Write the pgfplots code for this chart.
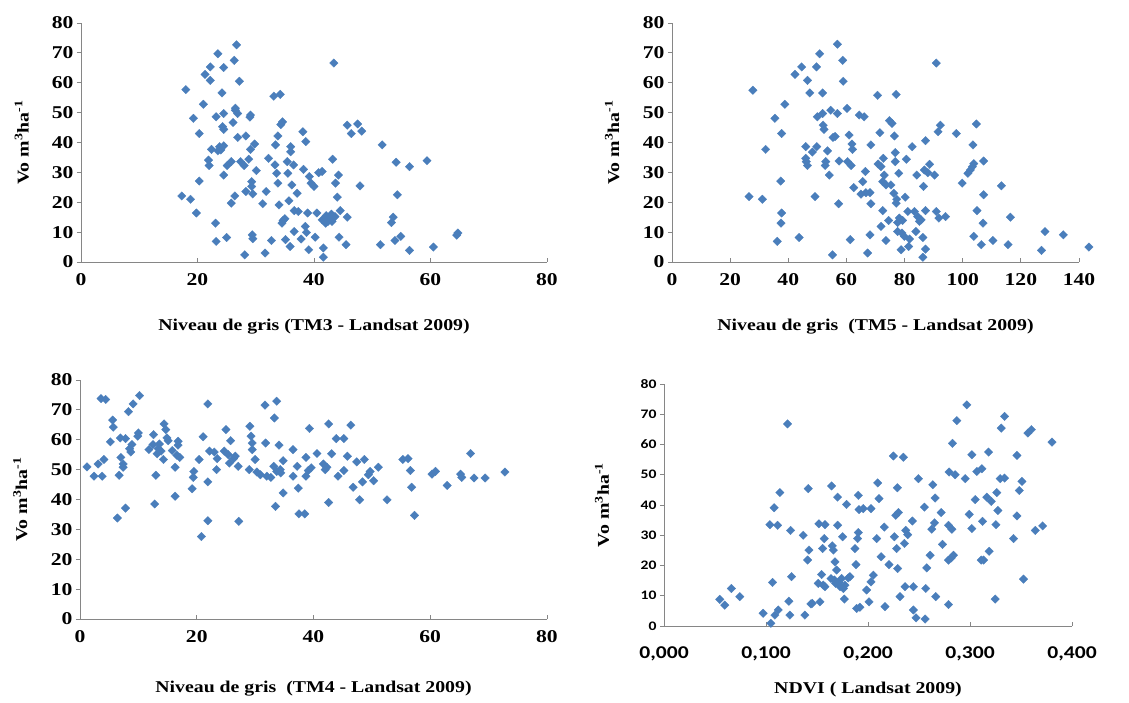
\documentclass[border=0pt]{standalone}
\usepackage{fontspec}
\setmainfont{Liberation Serif}[FakeStretch=1.2]
\newfontfamily\calfont{Carlito}[FakeStretch=1.2]
\usepackage{pgfplots}
\pgfplotsset{compat=1.18}
\definecolor{markblue}{HTML}{4A7EBB}
\definecolor{axisgray}{HTML}{868686}
\pgfplotsset{
  panel/.style={
    scale only axis,
    anchor=south west,
    axis x line*=bottom,
    axis y line*=left,
    axis line style={draw=axisgray, line width=0.9pt},
    every tick/.style={draw=axisgray, line width=0.9pt},
    xtick align=inside,
    ytick align=outside,
    major tick length=4pt,
    ymin=0, ymax=80,
    ytick={0,10,...,80},
    clip=false,
    /pgf/number format/assume math mode=true,
    tick label style={font=\fontsize{18}{20}\selectfont\bfseries},
    xticklabel style={yshift=-8pt},
    label style={font=\fontsize{16.5}{19}\selectfont\bfseries},
    ylabel={Vo m\textsuperscript{3}ha\textsuperscript{-1}},
  },
  pts/.style={only marks, mark=square*, mark size=3pt, color=markblue, mark options={rotate=45, draw=markblue, fill=markblue, line width=0.3pt}},
}
\pgfplotstableread{
x y
17.3 22.1
18.8 21.0
18.0 57.7
19.3 48.1
19.8 16.4
20.3 43.0
20.3 27.1
21.0 52.8
21.3 62.8
22.2 65.3
22.2 60.8
21.9 34.1
22.0 32.3
22.4 37.7
23.1 13.0
23.2 6.9
23.5 69.7
23.2 48.6
23.5 37.2
23.8 38.6
24.2 56.6
24.3 45.3
24.5 44.4
24.5 49.7
24.5 65.1
24.5 38.9
24.5 29.1
24.0 37.5
25.0 8.2
25.1 32.3
25.8 33.6
25.8 19.7
26.1 46.7
26.3 67.5
26.4 22.1
26.5 50.8
26.5 51.5
26.7 72.7
26.9 49.7
26.9 41.7
27.2 60.5
27.4 33.6
28.0 32.3
28.1 2.4
28.3 42.2
28.3 23.6
28.8 34.4
29.1 49.2
29.0 48.5
29.1 37.7
29.3 26.9
29.3 25.3
29.5 22.8
29.4 9.1
29.5 7.8
29.8 39.5
30.1 30.6
31.2 19.5
31.6 3.0
31.8 23.6
32.2 34.7
32.7 7.2
33.1 55.5
33.3 32.5
33.4 39.2
33.6 29.7
33.8 26.4
33.8 42.2
34.0 19.1
34.2 56.1
34.6 46.9
34.3 46.0
34.7 13.9
34.5 13.0
35.0 14.5
35.1 7.5
35.4 33.6
35.5 29.7
35.7 20.5
35.9 5.2
36.0 38.6
36.0 36.9
36.2 25.8
36.5 32.5
36.6 17.2
36.6 10.2
37.1 23.0
37.3 16.9
37.8 7.7
38.1 43.6
38.2 31.0
38.5 11.9
38.6 40.3
38.7 9.9
38.9 16.4
39.1 4.1
39.2 28.6
39.5 26.4
40.0 25.3
40.2 8.3
40.5 16.4
40.8 29.9
41.4 30.3
41.4 14.1
41.6 4.7
41.6 1.6
42.0 13.0
42.1 15.5
42.4 13.6
42.7 14.7
43.0 16.0
43.1 13.6
43.2 34.4
43.4 66.6
43.6 15.2
43.7 26.4
44.0 21.7
44.2 29.1
44.3 8.3
44.5 17.2
45.5 5.8
45.7 15.0
45.7 45.8
46.4 43.0
47.5 46.2
47.9 25.5
48.2 43.8
51.4 5.8
51.7 39.2
53.3 13.2
53.6 15.0
53.9 7.2
54.1 33.4
54.3 22.5
54.9 8.6
56.4 3.9
56.4 31.9
59.4 33.9
60.5 5.0
64.7 9.7
64.5 9.0
}\tmthree
\pgfplotstableread{
x y
26.5 21.9
27.8 57.5
31.1 21.0
32.2 37.7
35.4 48.1
36.2 6.9
37.4 27.1
37.5 13.0
37.7 16.4
37.7 43.0
38.8 52.8
42.3 62.8
43.7 8.2
44.6 65.3
46.0 38.6
46.0 34.7
46.2 33.6
46.6 32.3
46.6 60.8
47.4 56.6
48.3 36.8
49.2 21.9
49.7 65.3
49.8 38.6
50.0 48.6
50.8 69.7
51.8 56.6
51.8 49.7
52.0 45.8
52.3 44.4
52.7 32.3
52.9 33.6
53.5 37.2
54.1 29.1
54.6 50.8
55.2 2.4
55.4 41.7
56.1 42.0
56.9 49.7
56.9 72.9
57.3 19.5
57.5 33.8
58.7 67.5
58.9 60.5
60.2 51.4
60.4 33.6
60.9 42.5
61.3 7.5
61.6 32.3
61.9 39.5
62.1 37.7
62.5 24.9
64.4 49.2
65.0 22.7
65.6 26.9
66.1 48.6
66.5 30.3
66.7 23.2
67.3 3.0
68.1 9.1
68.1 23.2
68.4 19.5
68.4 39.2
70.7 55.8
70.9 32.8
71.5 43.3
71.9 11.9
71.9 31.9
72.5 17.2
72.7 34.7
72.5 26.9
73.0 29.1
73.6 7.2
73.6 25.8
74.5 13.9
74.8 47.3
75.3 25.8
75.7 46.4
76.3 23.0
76.5 42.2
76.8 36.6
76.8 33.6
77.1 56.1
77.1 19.7
77.3 21.0
77.6 13.2
77.6 10.2
78.0 29.7
78.2 14.7
78.8 4.1
79.1 9.7
79.3 13.9
79.9 8.6
80.2 21.7
80.6 34.4
81.1 16.9
81.4 5.2
81.7 7.7
82.6 38.6
83.4 16.9
83.9 10.2
84.2 29.1
84.5 15.2
85.1 13.6
85.7 14.1
86.3 8.2
86.3 1.6
86.5 25.3
86.8 30.8
87.2 4.3
87.2 17.2
87.2 40.6
88.0 29.9
88.6 32.7
90.3 29.1
90.9 66.6
90.9 16.9
91.5 43.6
91.8 14.7
92.3 45.8
94.1 15.2
97.8 43.0
99.8 26.4
101.8 29.7
102.6 30.8
103.3 31.9
103.5 39.2
103.8 32.9
103.8 8.6
104.7 46.2
104.9 17.2
106.4 5.8
107.0 13.0
107.2 33.8
107.2 22.5
110.4 7.2
113.3 25.5
115.6 5.8
116.4 15.0
127.1 3.9
128.3 10.2
134.6 9.1
143.4 5.0
}\tmfive
\pgfplotstableread{
x y
1.2 50.9
2.4 47.8
3.1 51.9
3.6 73.8
3.8 47.8
4.1 53.4
4.4 73.5
5.2 59.3
5.6 66.6
5.7 64.2
6.4 33.8
6.7 48.1
6.9 60.6
7.0 54.1
7.4 51.9
7.4 50.8
7.8 37.1
7.8 60.4
8.3 69.4
8.5 57.0
8.7 55.9
8.9 58.4
9.1 72.0
9.9 61.2
10.0 62.3
10.2 74.8
11.8 56.7
12.5 58.4
12.6 61.7
12.8 38.5
13.0 48.1
13.2 55.3
13.4 57.0
13.6 58.6
13.9 56.2
14.3 53.4
14.4 65.3
14.7 63.4
14.9 60.6
15.1 59.7
15.8 56.4
16.3 50.8
16.3 41.1
16.6 54.8
16.8 59.5
16.8 58.2
17.1 54.1
19.2 43.6
19.4 47.4
19.5 49.4
20.4 53.4
20.8 27.6
21.1 61.0
21.9 72.0
21.9 32.9
21.9 45.9
22.2 56.2
23.0 55.9
23.4 50.0
23.5 53.7
24.7 56.2
25.0 63.4
25.4 55.0
25.6 52.2
25.8 59.7
26.3 53.7
26.6 54.5
27.2 32.7
27.1 51.1
29.0 50.0
29.1 64.5
29.3 61.2
29.5 58.9
29.5 56.7
30.0 53.4
30.3 49.2
30.9 48.3
31.7 71.6
31.8 58.9
32.0 47.8
32.7 47.4
33.2 51.1
33.3 67.3
33.5 37.7
33.7 72.9
33.7 49.4
34.1 58.2
34.3 50.0
34.4 48.9
34.8 53.0
34.8 42.2
36.5 56.7
36.5 47.8
37.2 51.1
37.4 43.8
37.5 35.2
38.5 35.2
38.7 54.1
38.7 47.8
39.1 49.7
39.3 63.8
39.6 50.6
40.6 55.4
41.7 51.9
42.0 50.0
42.3 50.8
42.6 65.3
42.6 39.0
43.1 55.3
43.9 60.4
44.2 47.8
45.2 60.4
45.2 49.7
45.8 54.5
46.4 64.9
46.8 44.1
47.4 52.6
47.9 39.9
48.4 45.9
48.7 53.4
49.4 48.3
49.7 49.4
50.3 46.3
51.1 50.8
52.6 39.9
55.3 53.4
56.2 53.7
56.6 49.7
56.8 44.1
57.3 34.7
60.3 48.5
60.9 49.4
62.9 44.7
65.2 48.5
65.4 47.4
66.9 55.4
67.5 47.2
69.4 47.2
72.8 49.2
}\tmfour
\pgfplotstableread{
x y
0.0547 8.8
0.0596 6.9
0.0661 12.4
0.0743 9.7
0.0972 4.2
0.1038 33.5
0.1047 0.9
0.1064 14.4
0.1080 39.1
0.1087 3.6
0.1120 5.3
0.1113 33.3
0.1136 44.1
0.1211 66.8
0.1224 8.2
0.1234 3.6
0.1241 31.6
0.1250 16.3
0.1365 30.0
0.1381 3.6
0.1408 21.8
0.1421 25.1
0.1414 45.4
0.1440 7.3
0.1453 7.5
0.1512 14.1
0.1519 33.8
0.1529 8.0
0.1545 17.0
0.1555 25.6
0.1561 13.5
0.1571 28.9
0.1578 13.0
0.1578 33.5
0.1643 46.3
0.1637 15.7
0.1650 26.5
0.1660 25.1
0.1670 15.2
0.1676 21.2
0.1682 14.1
0.1692 18.5
0.1702 33.3
0.1702 42.6
0.1715 14.4
0.1725 13.0
0.1741 15.7
0.1751 29.5
0.1758 12.4
0.1768 8.9
0.1774 13.5
0.1790 40.2
0.1807 15.9
0.1823 16.3
0.1872 25.6
0.1882 20.3
0.1889 5.8
0.1898 28.9
0.1905 43.2
0.1905 30.9
0.1912 38.5
0.1921 6.2
0.1954 38.8
0.1987 11.9
0.2010 8.0
0.2029 38.8
0.2029 14.6
0.2052 16.8
0.2085 28.9
0.2095 47.3
0.2108 42.1
0.2128 22.9
0.2160 32.7
0.2167 6.4
0.2206 20.3
0.2249 56.2
0.2259 29.5
0.2272 36.6
0.2281 25.6
0.2288 45.7
0.2291 19.0
0.2298 37.5
0.2314 9.7
0.2347 55.8
0.2357 27.3
0.2370 31.6
0.2363 13.0
0.2389 30.2
0.2435 34.7
0.2445 13.0
0.2445 5.3
0.2471 2.7
0.2494 48.7
0.2553 39.3
0.2560 2.3
0.2566 12.4
0.2576 19.2
0.2609 23.4
0.2625 32.0
0.2635 46.7
0.2651 34.1
0.2658 42.3
0.2664 9.7
0.2717 37.5
0.2730 27.0
0.2789 7.1
0.2789 33.3
0.2789 21.8
0.2795 50.9
0.2815 22.5
0.2822 32.0
0.2828 60.4
0.2838 23.4
0.2854 50.0
0.2871 67.9
0.2953 48.7
0.2969 73.1
0.2992 36.9
0.3018 56.6
0.3018 32.2
0.3051 41.8
0.3067 51.1
0.3116 52.0
0.3110 21.8
0.3123 34.6
0.3133 21.8
0.3165 42.6
0.3182 57.5
0.3188 24.7
0.3208 41.2
0.3247 8.9
0.3254 33.5
0.3263 44.1
0.3273 38.2
0.3296 48.7
0.3306 65.4
0.3339 48.9
0.3339 69.3
0.3427 28.9
0.3460 56.4
0.3460 36.4
0.3483 44.8
0.3509 47.8
0.3525 15.5
0.3568 63.8
0.3601 64.9
0.3640 31.6
0.3712 33.1
0.3804 60.8
}\ndvi
\begin{document}
\begin{tikzpicture}
\path[use as bounding box] (0pt,0pt) rectangle (1129pt,702pt);
% Panel 1
\begin{axis}[panel, at={(81pt,440pt)}, width=466pt, height=239pt,
  xmin=0, xmax=80, xtick={0,20,...,80},
  xlabel={Niveau de gris (TM3 - Landsat 2009)},
  xlabel style={at={(axis description cs:0.5,-0.272)}, anchor=center},
  ylabel style={at={(axis description cs:-0.127,0.5)}, anchor=center},
]
\addplot[pts] table {\tmthree};
\end{axis}
% Panel 2
\begin{axis}[panel, at={(672pt,440pt)}, width=407pt, height=239pt,
  xmin=0, xmax=140, xtick={0,20,...,140},
  xlabel={Niveau de gris\ \ (TM5 - Landsat 2009)},
  xlabel style={at={(axis description cs:0.5,-0.272)}, anchor=center},
  ylabel style={at={(axis description cs:-0.147,0.5)}, anchor=center},
]
\addplot[pts] table {\tmfive};
\end{axis}
% Panel 3
\begin{axis}[panel, at={(80pt,83pt)}, width=467pt, height=239pt,
  xmin=0, xmax=80, xtick={0,20,...,80},
  xlabel={Niveau de gris\ \ (TM4 - Landsat 2009)},
  xlabel style={at={(axis description cs:0.5,-0.293)}, anchor=center},
  ylabel style={at={(axis description cs:-0.128,0.5)}, anchor=center},
]
\addplot[pts] table {\tmfour};
\end{axis}
% Panel 4
\begin{axis}[panel, at={(664pt,76pt)}, width=408pt, height=242pt,
  xmin=0, xmax=0.4, xtick={0,0.1,0.2,0.3,0.4},
  xticklabels={{0,000},{0,100},{0,200},{0,300},{0,400}},
  xticklabel style={font=\calfont\bfseries\fontsize{18}{20}\selectfont, yshift=-9pt},
  yticklabel style={font=\calfont\bfseries\fontsize{13}{15}\selectfont},
  xlabel={NDVI ( Landsat 2009)},
  xlabel style={at={(axis description cs:0.5,-0.264)}, anchor=center},
  ylabel style={at={(axis description cs:-0.152,0.5)}, anchor=center},
]
\addplot[pts] table {\ndvi};
\end{axis}
\end{tikzpicture}
\end{document}
